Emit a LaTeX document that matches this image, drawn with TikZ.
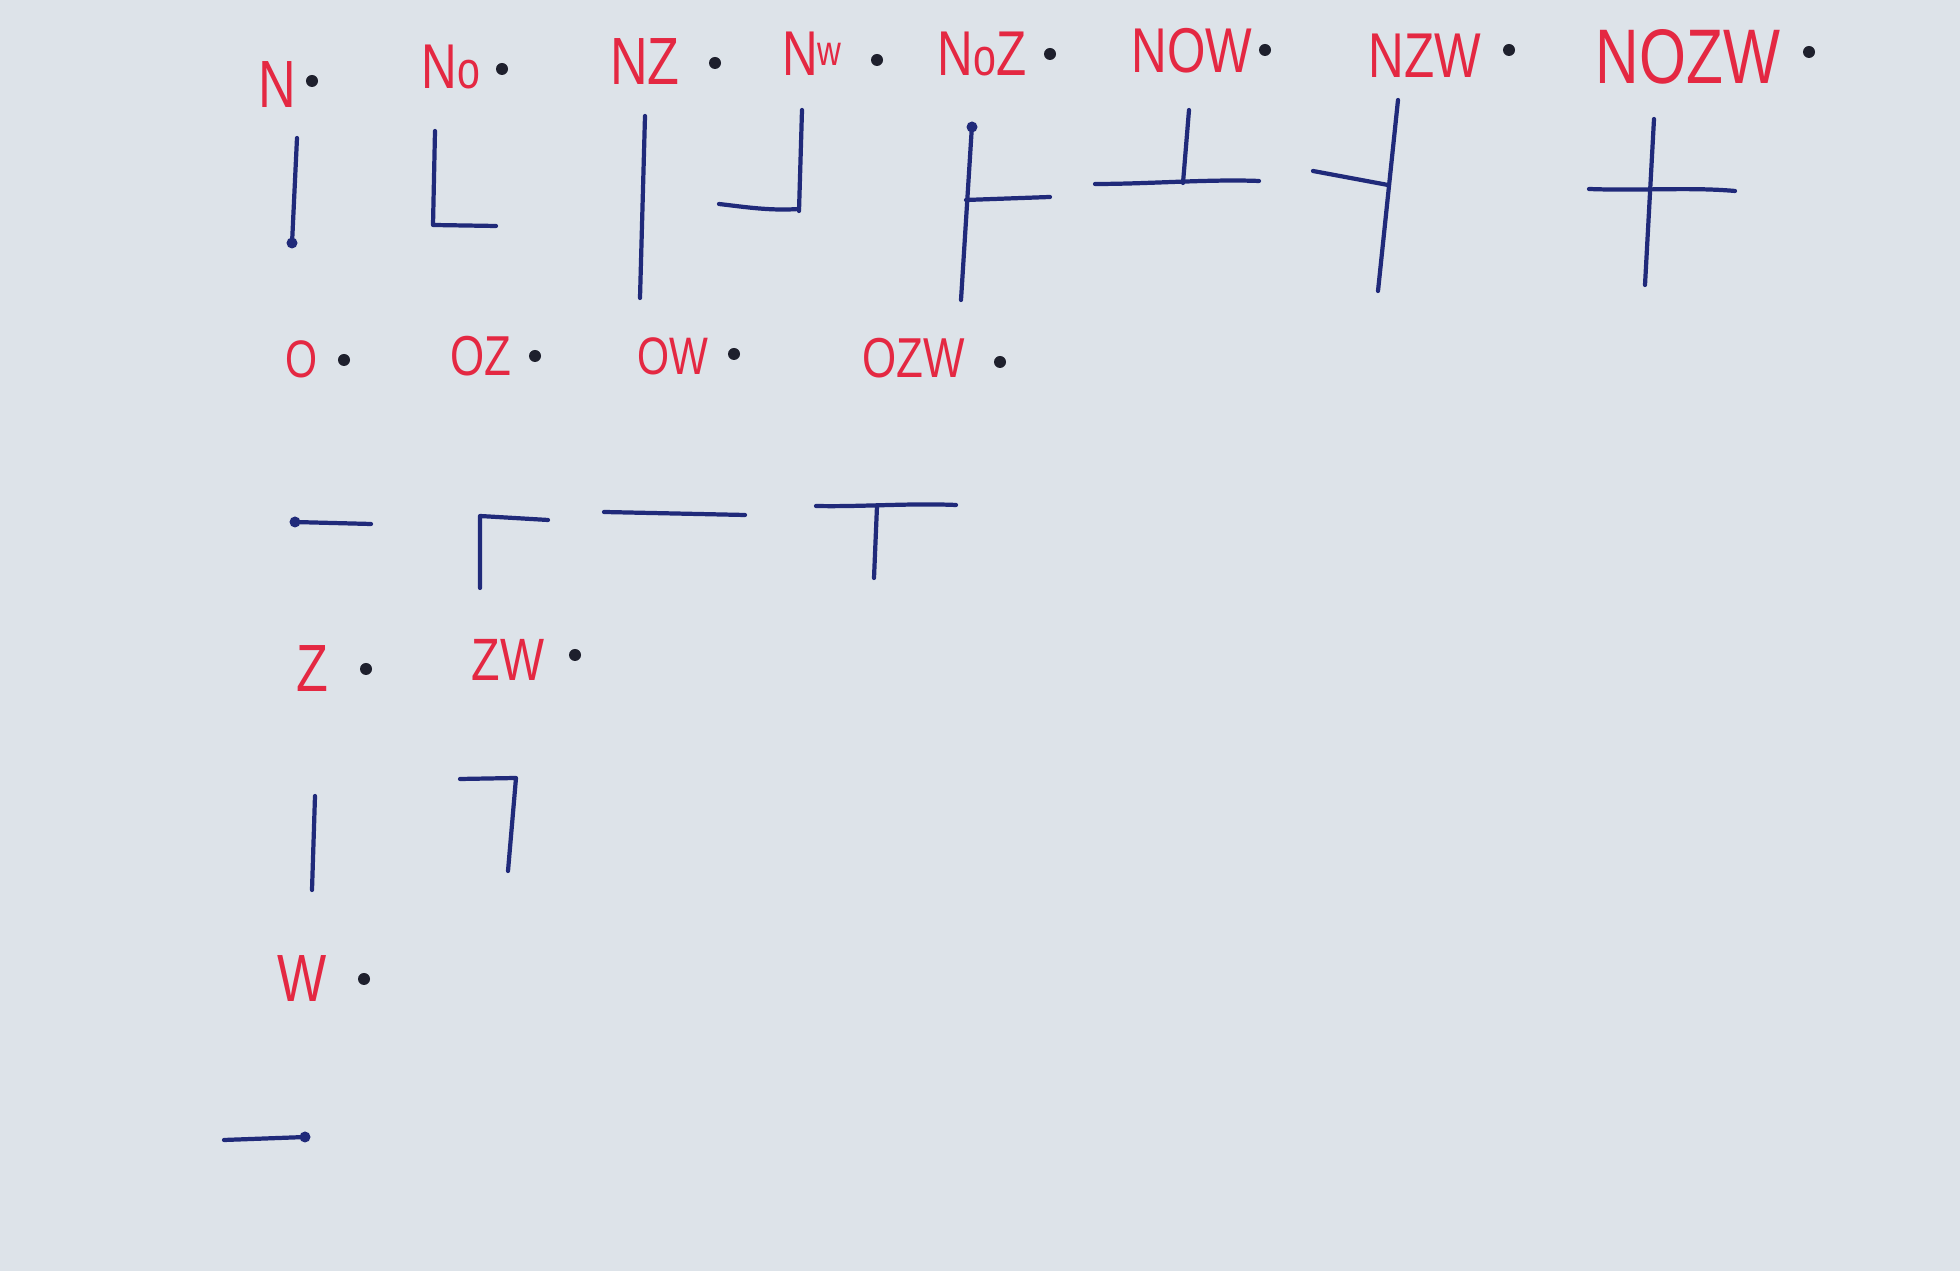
\documentclass[tikz,border=0pt]{standalone}
\usepackage{fontspec}
\setmainfont{Liberation Sans}
\usepackage{graphicx}
\definecolor{paper}{RGB}{221,227,233}
\definecolor{labred}{RGB}{228,40,66}
\definecolor{inkblue}{RGB}{32,42,122}
\definecolor{dotink}{RGB}{30,32,45}
\newcommand{\lbl}[2]{\scalebox{0.78}[1]{\fontsize{#1}{#1}\selectfont #2}}
\tikzset{
  lab/.style={text=labred, inner sep=0pt, anchor=center},
  pt/.style={circle, fill=dotink, inner sep=0pt, minimum size=1.2mm},
  ink/.style={draw=inkblue, line width=1.2pt, line cap=round, line join=round},
  blob/.style={circle, fill=inkblue, inner sep=0pt, minimum size=1.1mm}
}
\begin{document}
\begin{tikzpicture}[x=0.01cm,y=-0.01cm]
\fill[paper] (0,0) rectangle (1960,1271);
\useasboundingbox (0,0) rectangle (1960,1271);
% ---------- row 1 labels ----------
\node[lab] (lN)    at (277,85)  {\lbl{19}{N}};
\node[lab] (lNo)   at (451,67)  {\lbl{18}{N{\fontsize{15}{15}\selectfont o}}};
\node[lab] (lNZ)   at (645,62)  {\lbl{19}{NZ}};
\node[lab] (lNw)   at (812,54)  {\lbl{18}{N\raisebox{3pt}{\fontsize{12}{12}\selectfont w}}};
\node[lab] (lNoZ)  at (982,54)  {\lbl{18}{N{\fontsize{15}{15}\selectfont o}Z}};
\node[lab] (lNOW)  at (1192,51) {\lbl{18}{NOW}};
\node[lab] (lNZW)  at (1425,56) {\lbl{18}{NZW}};
\node[lab] (lNOZW) at (1688,57) {\lbl{22}{NOZW}};
\node[pt] (d1) at (312,81) {};
\node[pt] (d2) at (502,69) {};
\node[pt] (d3) at (715,63) {};
\node[pt] (d4) at (877,60) {};
\node[pt] (d5) at (1050,54) {};
\node[pt] (d6) at (1265,50) {};
\node[pt] (d7) at (1509,50) {};
\node[pt] (d8) at (1809,52) {};
% ---------- row 1 glyphs ----------
% N
\draw[ink] (297,138) -- (292,244);
\node[blob] (bN) at (292,243) {};
% No
\draw[ink] (435,131) -- (433,225) -- (496,226);
% NZ
\draw[ink] (645,116) -- (640,298);
% Nw
\draw[ink] (802,110) -- (799,211);
\draw[ink] (719,204) .. controls (745,207) and (770,211) .. (799,209);
% NoZ
\draw[ink] (972,125) -- (961,300);
\draw[ink] (966,200) -- (1050,197);
\node[blob] (bNoZ) at (972,127) {};
% NOW
\draw[ink] (1095,184) .. controls (1150,184) and (1210,179) .. (1259,181);
\draw[ink] (1189,110) -- (1183,183);
% NZW
\draw[ink] (1398,100) -- (1378,291);
\draw[ink] (1313,171) -- (1388,185);
% NOZW
\draw[ink] (1654,119) -- (1645,285);
\draw[ink] (1589,189) .. controls (1640,191) and (1690,187) .. (1735,191);
% ---------- row 2 labels ----------
\node[lab] (lO)   at (301,359) {\lbl{15}{O}};
\node[lab] (lOZ)  at (481,356) {\lbl{16}{OZ}};
\node[lab] (lOW)  at (673,356) {\lbl{15}{OW}};
\node[lab] (lOZW) at (914,358) {\lbl{16}{OZW}};
\node[pt] (d9)  at (344,360) {};
\node[pt] (d10) at (535,356) {};
\node[pt] (d11) at (734,354) {};
\node[pt] (d12) at (1000,362) {};
% ---------- row 2 glyphs ----------
\draw[ink] (294,522) -- (371,524);
\node[blob] (bO) at (295,522) {};
\draw[ink] (480,588) -- (480,516) -- (548,520);
\draw[ink] (604,512) -- (745,515);
\draw[ink] (816,506) .. controls (860,507) and (910,503) .. (956,505);
\draw[ink] (877,506) -- (874,578);
% ---------- row 3 labels ----------
\node[lab] (lZ)  at (312,669) {\lbl{19}{Z}};
\node[lab] (lZW) at (508,660) {\lbl{17}{ZW}};
\node[pt] (d13) at (366,669) {};
\node[pt] (d14) at (575,655) {};
% ---------- row 3 glyphs ----------
\draw[ink] (315,796) -- (312,890);
\draw[ink] (460,779) -- (516,778) -- (508,871);
% ---------- row 4 ----------
\node[lab] (lW) at (302,979) {\lbl{19}{W}};
\node[pt] (d15) at (364,979) {};
\draw[ink] (224,1140) -- (306,1137);
\node[blob] (bW) at (305,1137) {};
\end{tikzpicture}
\end{document}
